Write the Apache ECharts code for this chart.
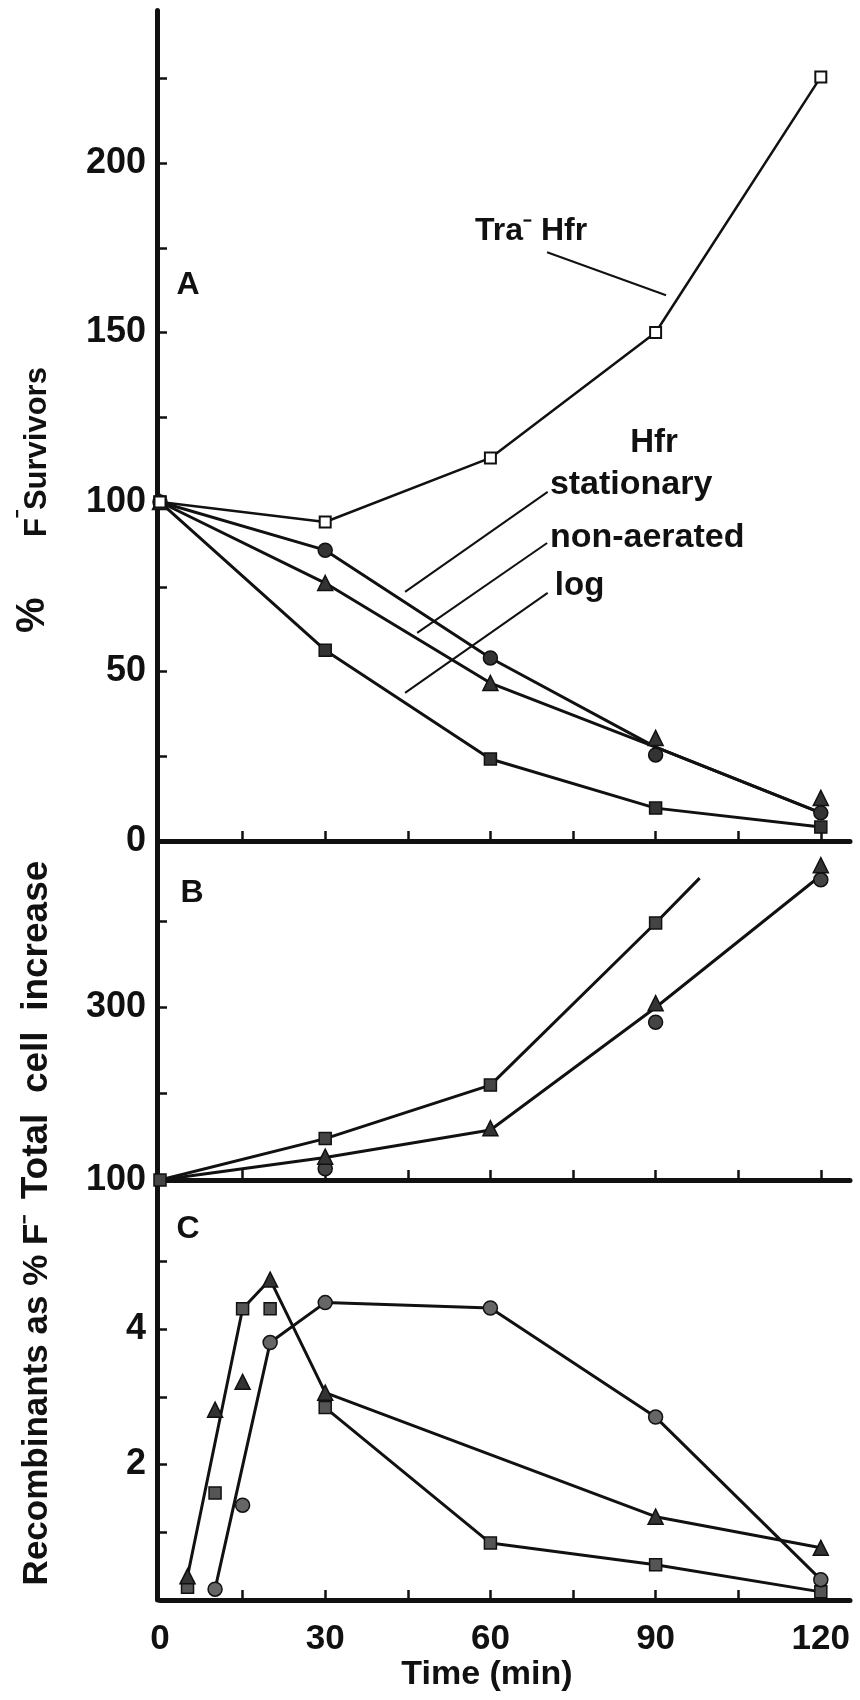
<!DOCTYPE html>
<html><head><meta charset="utf-8">
<script src="https://cdn.jsdelivr.net/npm/echarts@6/dist/echarts.min.js"></script>
<style>html,body{margin:0;padding:0;background:#fff}#c{width:860px;height:1700px}</style>
</head><body><div id="c"></div>
<script>
// ---------------- data ----------------
const timeTicks  = [15, 30, 45, 60, 75, 90, 105, 120];
const timeLabels = [0, 30, 60, 90, 120];
const aTicks  = [25, 50, 75, 100, 125, 150, 175, 200, 225];
const aLabels = [0, 50, 100, 150, 200];
const bTicks  = [200, 300, 400];
const bLabels = [100, 300];
const cTicks  = [1, 2, 3, 4, 5];
const cLabels = [2, 4];

// Panel A: % F- survivors  [time (min), %]
const aTraHfr          = [[0,100],[30,94.1],[60,113],[90,150],[120,225.4]];
const aStationaryPts   = [[0,100],[30,85.8],[60,54],[90,25.4],[120,8.3]];
const aStationaryLine  = [[0,100],[30,85.8],[60,54],[90,27.7],[120,8.3]];
const aNonAeratedPts   = [[0,100],[30,76.1],[60,46.6],[90,30.4],[120,12.7]];
const aNonAeratedLine  = [[0,100],[30,76.1],[60,46.6],[90,27.7],[120,8.3]];
const aLog             = [[0,100],[30,56.3],[60,24.2],[90,9.7],[120,4.1]];

// Panel B: total cell increase
const bLogPts          = [[0,100],[30,148],[60,210],[90,398]];
const bLogLine         = [[0,100],[30,148],[60,210],[90,398],[98,450]];
const bNonAeratedPts   = [[30,127],[60,160],[90,305],[120,465]];
const bStationaryPts   = [[30,113],[90,283],[120,448]];
const bHfrLine         = [[0,100],[30,126],[60,158],[90,300],[120,453]];

// Panel C: recombinants as % F-
const cLogPts          = [[5,0.19],[10,1.58],[15,4.3],[20,4.3],[30,2.84],[60,0.84],[90,0.52],[120,0.12]];
const cNonAeratedPts   = [[5,0.35],[10,2.81],[15,3.22],[20,4.73],[30,3.06],[90,1.23],[120,0.77]];
const cStationaryPts   = [[10,0.16],[15,1.4],[20,3.8],[30,4.39],[60,4.31],[90,2.7],[120,0.3]];
const cEarlyLine       = [[5,0.35],[15,4.3],[20,4.73],[30,3.06],[90,1.23],[120,0.77]];
const cLogLine         = [[30,2.84],[60,0.84],[90,0.52],[120,0.12]];
const cStationaryLine  = [[10,0.16],[20,3.8],[30,4.39],[60,4.31],[90,2.7],[120,0.3]];

// ---------------- chart ----------------
const FONT = '"Liberation Sans", Arial, Helvetica, sans-serif';
const INK = '#111';
const chart = echarts.init(document.getElementById('c'), null, {renderer: 'canvas'});

const grids = [
  {left: 160, right: 10, top: 10.5, height: 830.5},
  {left: 160, right: 10, top: 841,  height: 339},
  {left: 160, right: 10, top: 1180, height: 420}
];

function xAx(i) {
  return {
    gridIndex: i, type: 'value', min: 0, max: 125.3,
    axisLine: {show: true, onZero: false, lineStyle: {color: INK, width: 5}},
    axisTick: {show: true, inside: true, length: 10, customValues: timeTicks, lineStyle: {color: INK, width: 2.5}},
    axisLabel: {show: i === 2, customValues: timeLabels, fontSize: 35, fontWeight: 'bold', fontFamily: FONT, color: INK, margin: 22},
    splitLine: {show: false}
  };
}
function yAx(i, min, max, ticks, labels) {
  return {
    gridIndex: i, type: 'value', min: min, max: max, offset: 3,
    axisLine: {show: true, onZero: false, lineStyle: {color: INK, width: 5}},
    axisTick: {show: true, inside: true, length: 10, customValues: ticks, lineStyle: {color: INK, width: 2.5}},
    axisLabel: {show: true, customValues: labels, fontSize: 36, fontWeight: 'bold', fontFamily: FONT, color: INK, margin: 11},
    splitLine: {show: false}
  };
}

function lineS(g, data, extra) {
  return Object.assign({
    type: 'line', xAxisIndex: g, yAxisIndex: g, data: data, symbol: 'none',
    lineStyle: {color: INK, width: 3}, z: 2, silent: true
  }, extra || {});
}
function ptsS(g, data, symbol, size, fill) {
  return {
    type: 'scatter', xAxisIndex: g, yAxisIndex: g, data: data, symbol: symbol, symbolSize: size,
    itemStyle: {color: fill, borderColor: INK, borderWidth: 1.5, opacity: 1}, z: 3, silent: true
  };
}

const leaderStyle = {color: INK, width: 2, type: 'solid'};

const option = {
  animation: false,
  backgroundColor: '#fff',
  grid: grids,
  xAxis: [xAx(0), xAx(1), xAx(2)],
  yAxis: [
    yAx(0, 0, 245, aTicks, aLabels),
    yAx(1, 100, 493, bTicks, bLabels),
    yAx(2, 0, 6.2, cTicks, cLabels)
  ],
  series: [
    // Panel A
    lineS(0, aStationaryLine),
    lineS(0, aNonAeratedLine),
    lineS(0, aLog, {symbol: 'rect', symbolSize: 12, showAllSymbol: true,
      itemStyle: {color: '#333', borderColor: INK, borderWidth: 1.5}}),
    ptsS(0, aStationaryPts, 'circle', 14, '#333'),
    ptsS(0, aNonAeratedPts, 'triangle', 15, '#333'),
    lineS(0, aTraHfr, {symbol: 'rect', symbolSize: 11, showAllSymbol: true, z: 4,
      itemStyle: {color: '#fff', borderColor: INK, borderWidth: 2},
      lineStyle: {color: INK, width: 2.5},
      markLine: {
        silent: true, symbol: ['none', 'none'], label: {show: false}, lineStyle: leaderStyle,
        data: [
          [{coord: [70.3, 173.7]}, {coord: [91.9, 161]}],
          [{coord: [44.5, 73.5]}, {coord: [70.4, 103]}],
          [{coord: [46.7, 61.4]}, {coord: [70.3, 87.9]}],
          [{coord: [44.5, 43.7]}, {coord: [70.4, 73.2]}]
        ]
      }}),
    // Panel B
    lineS(1, bLogLine),
    lineS(1, bHfrLine),
    ptsS(1, bLogPts, 'rect', 12, '#444'),
    ptsS(1, bStationaryPts, 'circle', 14, '#444'),
    ptsS(1, bNonAeratedPts, 'triangle', 15, '#333'),
    // Panel C
    lineS(2, cEarlyLine),
    lineS(2, cLogLine),
    lineS(2, cStationaryLine),
    ptsS(2, cLogPts, 'rect', 12, '#555'),
    ptsS(2, cStationaryPts, 'circle', 14, '#666'),
    ptsS(2, cNonAeratedPts, 'triangle', 15, '#333')
  ]
};
chart.setOption(option);

// ---------------- text annotations ----------------
function richStyle(size, extra) {
  return Object.assign({
    n: {font: 'bold ' + size + 'px ' + FONT, fill: INK, verticalAlign: 'bottom'},
    s: {font: 'bold ' + Math.round(size * 0.8) + 'px ' + FONT, fill: INK, verticalAlign: 'top'}
  }, extra || {});
}
function txt(grid, at, text, size, align) {
  const p = chart.convertToPixel({gridIndex: grid}, at);
  return {
    type: 'text', x: p[0], y: p[1], silent: true, z: 10,
    style: {text: text, fill: INK, font: 'bold ' + size + 'px ' + FONT, align: align || 'left',
            verticalAlign: 'middle', rich: richStyle(size)}
  };
}
function vtxt(x, y, text, size, extraRich) {
  return {
    type: 'text', x: x, y: y, rotation: Math.PI / 2, silent: true, z: 10,
    style: {text: text, fill: INK, font: 'bold ' + size + 'px ' + FONT, align: 'center',
            verticalAlign: 'middle', rich: richStyle(size, extraRich)}
  };
}
chart.setOption({
  graphic: [
    txt(0, [5.1, 164], 'A', 32, 'center'),
    txt(1, [5.8, 433], 'B', 32, 'center'),
    txt(2, [5.1, 5.47], 'C', 32, 'center'),
    txt(0, [57.2, 179.8], '{n|Tra}{s|\u207B}{n| Hfr}', 32),
    txt(0, [89.7, 117.5], 'Hfr', 33, 'center'),
    txt(0, [70.8, 105], 'stationary', 34),
    txt(0, [70.8, 89.4], 'non-aerated', 34),
    txt(0, [71.7, 75.2], 'log', 33),
    vtxt(32.5, 500, '{p|%}{n|       F}{s|\u207B}{n|Survivors}', 31,
         {p: {font: 'bold 40px ' + FONT, fill: INK, verticalAlign: 'bottom'}}),
    {type: 'text', x: 37, y: 1030, rotation: Math.PI / 2, silent: true, z: 10,
     style: {text: 'Total  cell  increase', fill: INK, font: 'bold 37px ' + FONT, align: 'center', verticalAlign: 'middle'}},
    vtxt(37, 1400, '{n|Recombinants as % F}{s|\u207B}', 35),
    {type: 'text', x: 487, y: 1675, silent: true, z: 10,
     style: {text: 'Time (min)', fill: INK, font: 'bold 34px ' + FONT, align: 'center', verticalAlign: 'middle'}}
  ]
});
</script>
</body></html>
